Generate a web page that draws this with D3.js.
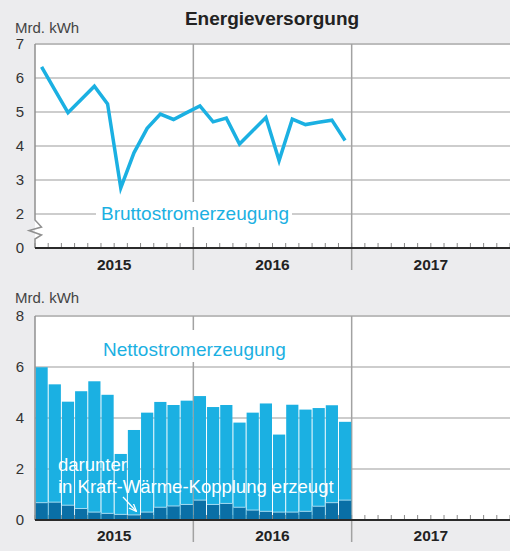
<!DOCTYPE html>
<html>
<head>
<meta charset="utf-8">
<script src="https://cdn.jsdelivr.net/npm/d3@7"></script>
<style>
  body { margin: 0; background: #ececee; }
  text { font-family: "Liberation Sans", Arial, sans-serif; }
</style>
</head>
<body>
<div id="chart"></div>
<script>
// data, monthly 2015-01 .. 2016-12 (Mrd. kWh)
var years = ["2015", "2016", "2017"];
var brutto = [6.33, 5.65, 4.98, 5.37, 5.76, 5.24, 2.77, 3.80, 4.52, 4.94, 4.78, 4.98,
              5.18, 4.71, 4.82, 4.06, 4.45, 4.84, 3.57, 4.79, 4.63, 4.70, 4.76, 4.16];
var netto = [5.99, 5.32, 4.64, 5.05, 5.44, 4.91, 2.59, 3.53, 4.21, 4.63, 4.51, 4.68,
             4.86, 4.43, 4.51, 3.82, 4.21, 4.57, 3.35, 4.52, 4.33, 4.39, 4.50, 3.85];
var kwk = [0.68, 0.70, 0.58, 0.45, 0.31, 0.26, 0.22, 0.20, 0.31, 0.50, 0.55, 0.61,
           0.78, 0.61, 0.65, 0.50, 0.39, 0.34, 0.31, 0.31, 0.34, 0.54, 0.68, 0.78];
var topTicks = [0, 2, 3, 4, 5, 6, 7];
var botTicks = [0, 2, 4, 6, 8];

var W = 510, H = 551;
var cyan = "#1bb0e2", dark = "#0a6fa6", grid = "#bcbcbc";

var svg = d3.select("#chart").append("svg")
  .attr("width", W)
  .attr("height", H);

svg.append("rect").attr("width", W).attr("height", H).attr("fill", "#ececee");

var x = d3.scaleLinear().domain([0, 36]).range([35, 510]);
var months = d3.range(37);

// title
svg.append("text")
  .attr("x", 272).attr("y", 25)
  .attr("text-anchor", "middle")
  .attr("font-size", 19).attr("font-weight", "bold")
  .attr("fill", "#222")
  .text("Energieversorgung");

// ---------- top chart ----------
var y1 = d3.scaleLinear().domain([0, 2, 7]).range([248, 214, 44]);
var g1 = svg.append("g");

g1.append("rect")
  .attr("x", x(0)).attr("y", y1(7))
  .attr("width", x(36) - x(0)).attr("height", y1(0) - y1(7))
  .attr("fill", "#fff");

g1.selectAll("line.grid")
  .data([2, 3, 4, 5, 6, 7])
  .enter().append("line")
  .attr("class", "grid")
  .attr("x1", x(0)).attr("x2", x(36))
  .attr("y1", function(d) { return y1(d); })
  .attr("y2", function(d) { return y1(d); })
  .attr("stroke", grid)
  .attr("stroke-width", function(d) { return d == 7 ? 2 : 1.5; });

// year dividers
g1.selectAll("line.year")
  .data([12, 24])
  .enter().append("line")
  .attr("class", "year")
  .attr("x1", function(d) { return x(d); })
  .attr("x2", function(d) { return x(d); })
  .attr("y1", y1(7)).attr("y2", 270)
  .attr("stroke", "#a2a2a2")
  .attr("stroke-width", 1.5);

// month ticks
g1.selectAll("line.tick")
  .data(months)
  .enter().append("line")
  .attr("class", "tick")
  .attr("x1", function(d) { return x(d); })
  .attr("x2", function(d) { return x(d); })
  .attr("y1", y1(0) - 5).attr("y2", y1(0))
  .attr("stroke", "#888")
  .attr("stroke-width", 1);

// series label with white knockout
g1.append("rect")
  .attr("x", 96).attr("y", 202)
  .attr("width", 196).attr("height", 25)
  .attr("fill", "#fff");
g1.append("text")
  .attr("x", 101).attr("y", 220)
  .attr("font-size", 19)
  .attr("fill", cyan)
  .text("Bruttostromerzeugung");

// line
var line = d3.line()
  .x(function(d, i) { return x(i + 0.5); })
  .y(function(d) { return y1(d); });

g1.append("path")
  .datum(brutto)
  .attr("d", line)
  .attr("fill", "none")
  .attr("stroke", cyan)
  .attr("stroke-width", 3.5)
  .attr("stroke-linejoin", "miter");

// left axis with break
g1.append("path")
  .attr("d", "M35," + y1(7) + "V220L41.5,227L29,230.5L41.5,235L35,239V" + y1(0))
  .attr("fill", "none")
  .attr("stroke", "#909090")
  .attr("stroke-width", 1.5);

g1.append("line")
  .attr("x1", x(0)).attr("x2", x(36))
  .attr("y1", y1(0)).attr("y2", y1(0))
  .attr("stroke", "#2a2a2a")
  .attr("stroke-width", 2);

var ax1 = g1.append("g")
  .attr("transform", "translate(24,0)")
  .call(d3.axisLeft(y1).tickValues(topTicks).tickFormat(d3.format("d"))
    .tickSize(0).tickPadding(0));
ax1.select(".domain").remove();
ax1.selectAll("text")
  .attr("font-size", 15)
  .attr("fill", "#333")
  .style("font-family", "Liberation Sans, Arial, sans-serif");

g1.append("text")
  .attr("x", 15).attr("y", 33)
  .attr("font-size", 15)
  .attr("fill", "#444")
  .text("Mrd. kWh");

g1.selectAll("text.yr")
  .data(years)
  .enter().append("text")
  .attr("class", "yr")
  .attr("x", function(d, i) { return x(i * 12 + 6); })
  .attr("y", 270)
  .attr("text-anchor", "middle")
  .attr("font-size", 15.5).attr("font-weight", "bold")
  .attr("fill", "#222")
  .text(function(d) { return d; });

// ---------- bottom chart ----------
var y2 = d3.scaleLinear().domain([0, 8]).range([520, 316]);
var g2 = svg.append("g");

g2.append("rect")
  .attr("x", x(0)).attr("y", y2(8))
  .attr("width", x(36) - x(0)).attr("height", y2(0) - y2(8))
  .attr("fill", "#fff");

g2.selectAll("line.grid")
  .data([2, 4, 6, 8])
  .enter().append("line")
  .attr("class", "grid")
  .attr("x1", x(0)).attr("x2", x(36))
  .attr("y1", function(d) { return y2(d); })
  .attr("y2", function(d) { return y2(d); })
  .attr("stroke", grid)
  .attr("stroke-width", function(d) { return d == 8 ? 2 : 1.5; });

g2.selectAll("line.year")
  .data([12, 24])
  .enter().append("line")
  .attr("class", "year")
  .attr("x1", function(d) { return x(d); })
  .attr("x2", function(d) { return x(d); })
  .attr("y1", y2(8)).attr("y2", 542)
  .attr("stroke", "#a2a2a2")
  .attr("stroke-width", 1.5);

g2.selectAll("line.tick")
  .data(months)
  .enter().append("line")
  .attr("class", "tick")
  .attr("x1", function(d) { return x(d); })
  .attr("x2", function(d) { return x(d); })
  .attr("y1", y2(0) - 5).attr("y2", y2(0))
  .attr("stroke", "#888")
  .attr("stroke-width", 1);

g2.append("rect")
  .attr("x", 98).attr("y", 330)
  .attr("width", 192).attr("height", 32)
  .attr("fill", "#fff");
g2.append("text")
  .attr("x", 103).attr("y", 356)
  .attr("font-size", 19)
  .attr("fill", cyan)
  .text("Nettostromerzeugung");

// bars
g2.selectAll("rect.net")
  .data(netto)
  .enter().append("rect")
  .attr("class", "net")
  .attr("x", function(d, i) { return x(i) + 0.5; })
  .attr("width", function(d, i) { return x(i + 1) - x(i) - 1; })
  .attr("y", function(d) { return y2(d); })
  .attr("height", function(d) { return y2(0) - y2(d); })
  .attr("fill", cyan);

g2.selectAll("rect.kwk")
  .data(kwk)
  .enter().append("rect")
  .attr("class", "kwk")
  .attr("x", function(d, i) { return x(i) + 0.5; })
  .attr("width", function(d, i) { return x(i + 1) - x(i) - 1; })
  .attr("y", function(d) { return y2(d); })
  .attr("height", function(d) { return y2(0) - y2(d); })
  .attr("fill", dark);

g2.selectAll("line.kwk")
  .data(kwk)
  .enter().append("line")
  .attr("class", "kwk")
  .attr("x1", function(d, i) { return x(i) + 0.5; })
  .attr("x2", function(d, i) { return x(i + 1) - 0.5; })
  .attr("y1", function(d) { return y2(d); })
  .attr("y2", function(d) { return y2(d); })
  .attr("stroke", "#a6dcf2")
  .attr("stroke-width", 1);

// annotation
g2.append("text")
  .attr("x", 58).attr("y", 471)
  .attr("font-size", 18.5)
  .attr("fill", "#fff")
  .text("darunter");
g2.append("text")
  .attr("x", 58).attr("y", 493)
  .attr("font-size", 18.5)
  .attr("fill", "#fff")
  .text("in Kraft-Wärme-Kopplung erzeugt");

var defs = svg.append("defs");
defs.append("marker")
  .attr("id", "arr")
  .attr("viewBox", "0 0 10 10")
  .attr("refX", 9).attr("refY", 5)
  .attr("markerWidth", 6).attr("markerHeight", 6)
  .attr("orient", "auto")
  .append("path")
  .attr("d", "M0,1L10,5L0,9")
  .attr("fill", "none")
  .attr("stroke", "#fff")
  .attr("stroke-width", 1.6);

g2.append("line")
  .attr("x1", 123).attr("y1", 497)
  .attr("x2", 136).attr("y2", 511)
  .attr("stroke", "#fff")
  .attr("stroke-width", 1.3)
  .attr("marker-end", "url(#arr)");

g2.append("line")
  .attr("x1", x(0)).attr("x2", x(0))
  .attr("y1", y2(8)).attr("y2", y2(0))
  .attr("stroke", "#909090")
  .attr("stroke-width", 1.5);

g2.append("line")
  .attr("x1", x(0)).attr("x2", x(36))
  .attr("y1", y2(0)).attr("y2", y2(0))
  .attr("stroke", "#2a2a2a")
  .attr("stroke-width", 2);

var ax2 = g2.append("g")
  .attr("transform", "translate(24,0)")
  .call(d3.axisLeft(y2).tickValues(botTicks).tickSize(0).tickPadding(0));
ax2.select(".domain").remove();
ax2.selectAll("text")
  .attr("font-size", 15)
  .attr("fill", "#333")
  .style("font-family", "Liberation Sans, Arial, sans-serif");

g2.append("text")
  .attr("x", 15).attr("y", 303)
  .attr("font-size", 15)
  .attr("fill", "#444")
  .text("Mrd. kWh");

g2.selectAll("text.yr")
  .data(years)
  .enter().append("text")
  .attr("class", "yr")
  .attr("x", function(d, i) { return x(i * 12 + 6); })
  .attr("y", 541)
  .attr("text-anchor", "middle")
  .attr("font-size", 15.5).attr("font-weight", "bold")
  .attr("fill", "#222")
  .text(function(d) { return d; });
</script>
</body>
</html>
